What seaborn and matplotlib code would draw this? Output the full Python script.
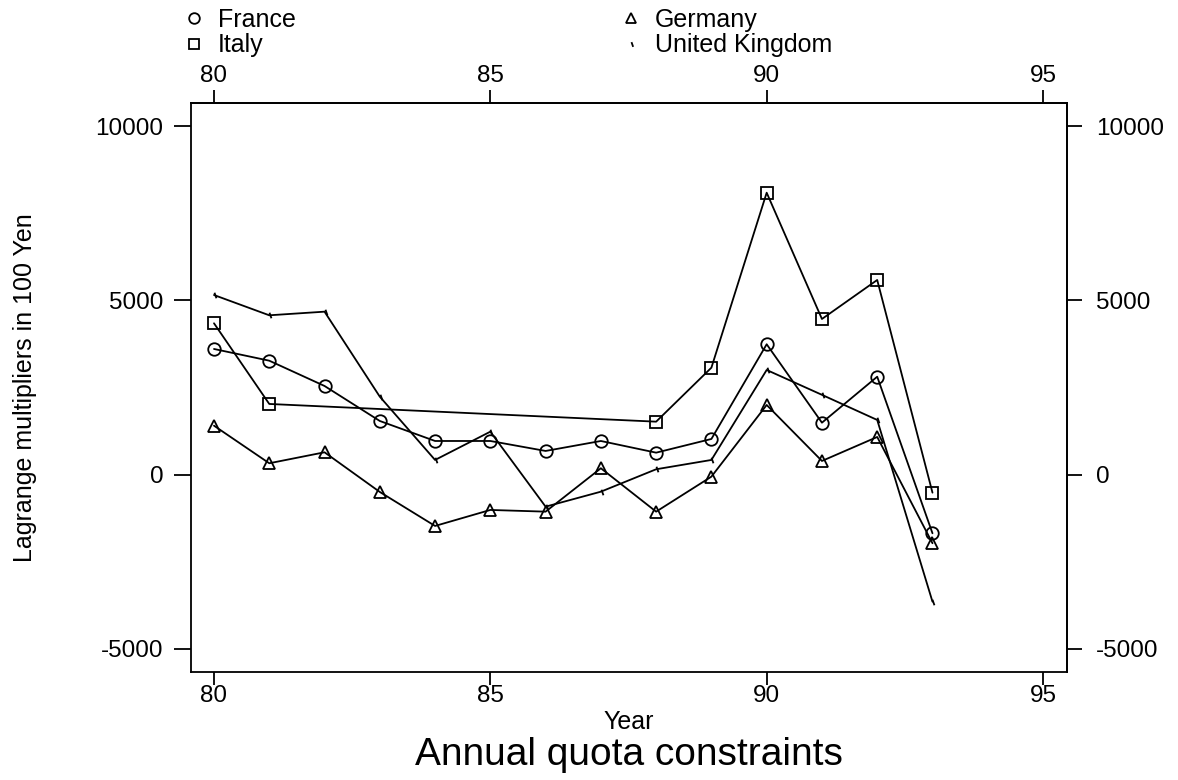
import matplotlib
matplotlib.use("Agg")
import matplotlib.pyplot as plt
from matplotlib.lines import Line2D
import seaborn as sns
import pandas as pd

# Lagrange multipliers (in 100 Yen) for the annual quota constraints
years_all = [80, 81, 82, 83, 84, 85, 86, 87, 88, 89, 90, 91, 92, 93]
france = [3605, 3269, 2544, 1540, 966, 966, 680, 966, 631, 1024, 3740, 1491, 2810, -1681]
germany = [1405, 327, 642, -496, -1471, -1012, -1061, 184, -1061, -57, 1999, 393, 1081, -1967]
years_italy = [80, 81, 88, 89, 90, 91, 92, 93]
italy = [4342, 2028, 1520, 3069, 8087, 4465, 5584, -516]
uk = [5153, 4571, 4675, 2237, 422, 1233, -918, -488, 155, 422, 3003, 2290, 1569, -3642]

x_ticks = [80, 85, 90, 95]
y_ticks = [-5000, 0, 5000, 10000]

sns.set_theme(style="ticks")
plt.rcParams["font.family"] = ["Liberation Sans", "DejaVu Sans"]
for key in ["text.color", "axes.labelcolor", "xtick.color", "ytick.color",
            "axes.edgecolor"]:
    plt.rcParams[key] = "black"

TICK_FS = 17.5
LABEL_FS = 18
W, H = 1178, 780
fig = plt.figure(figsize=(W / 100, H / 100), dpi=100)
ax = fig.add_axes([191 / W, 1 - 672 / H, (1067 - 191) / W, (672 - 103) / H])

tick_mark = [(0, 0.5), (0.35, -0.5)]
series = [
    ("France", years_all, france, "o", 9),
    ("Italy", years_italy, italy, "s", 9),
    ("Germany", years_all, germany, "^", 9),
    ("United Kingdom", years_all, uk, tick_mark, 4),
]

for name, xs, ys, mk, ms in series:
    df = pd.DataFrame({"Year": xs, "value": ys, "country": name})
    sns.lineplot(data=df, x="Year", y="value", ax=ax, color="black",
                 linewidth=1.3, marker=mk, markersize=ms,
                 markerfacecolor="none", markeredgecolor="black",
                 markeredgewidth=1.3, legend=False)

ax.set_xlim(79.584, 95.434)
ax.set_ylim(-5660, 10660)
ax.set_xticks(x_ticks)
ax.set_yticks(y_ticks)
ax.set_xticklabels([str(t) for t in x_ticks])
ax.set_yticklabels([str(t) for t in y_ticks])

for side in ["top", "bottom", "left", "right"]:
    ax.spines[side].set_visible(True)
    ax.spines[side].set_color("black")
    ax.spines[side].set_linewidth(1.3)

ax.tick_params(axis="x", direction="out", length=9.5, width=1.3,
               labelsize=TICK_FS, pad=0, top=False, labeltop=False)
ax.tick_params(axis="y", direction="out", length=12, width=1.3,
               labelsize=TICK_FS, pad=8, right=False, labelright=False)

# mirrored scales on the top and right edges
top = ax.secondary_xaxis("top")
top.set_xticks(x_ticks)
top.set_xticklabels([str(t) for t in x_ticks])
top.tick_params(direction="out", length=9.5, width=1.3, labelsize=TICK_FS, pad=2)
top.spines["top"].set_linewidth(1.3)
right = ax.secondary_yaxis("right")
right.set_yticks(y_ticks)
right.set_yticklabels([str(t) for t in y_ticks])
right.tick_params(direction="out", length=11, width=1.3, labelsize=TICK_FS, pad=10)
right.spines["right"].set_linewidth(1.3)

ax.set_xlabel("Year", fontsize=LABEL_FS, labelpad=2)
ax.set_ylabel("Lagrange multipliers in 100 Yen", fontsize=LABEL_FS, labelpad=42)
fig.text(629 / W, 1 - 755 / H, "Annual quota constraints", fontsize=28,
         ha="center", va="center")

# legend above the plot, two columns
def handle(mk, ms):
    return Line2D([], [], linestyle="none", marker=mk, markersize=ms * 0.85,
                  markerfacecolor="none", markeredgecolor="black",
                  markeredgewidth=1.3, color="black")

leg_kw = dict(loc="upper left", frameon=False, fontsize=LABEL_FS, borderpad=0,
              borderaxespad=0, handlelength=0.8, handletextpad=0.56,
              labelspacing=0.05)
col1 = [series[0], series[1]]
col2 = [series[2], series[3]]
fig.legend([handle(s[3], s[4]) for s in col1], [s[0] for s in col1],
           bbox_to_anchor=(184 / W, 1 - 8 / H), **leg_kw)
fig.legend([handle(s[3], s[4]) for s in col2], [s[0] for s in col2],
           bbox_to_anchor=(621 / W, 1 - 8 / H), **leg_kw)

fig.savefig("out.png", dpi=100)
